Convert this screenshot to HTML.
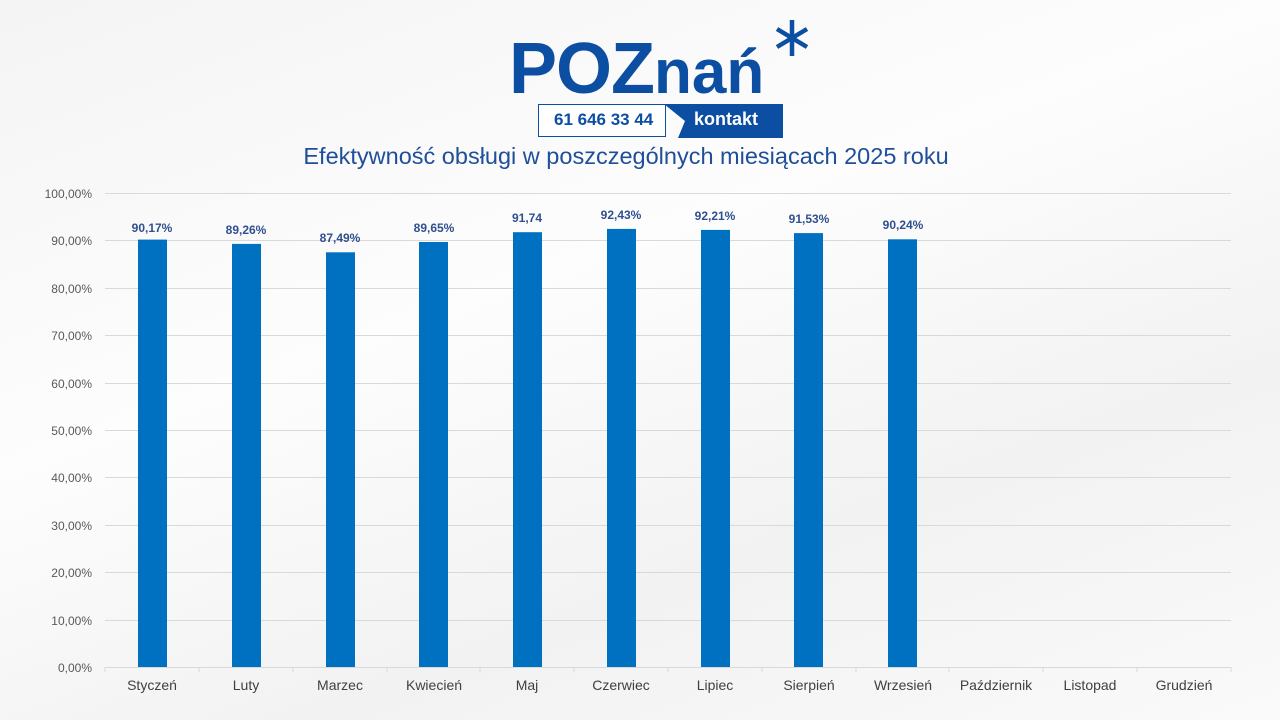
<!DOCTYPE html>
<html><head><meta charset="utf-8"><style>
body{margin:0;width:1280px;height:720px;overflow:hidden;background:linear-gradient(160deg,#f4f4f4 0%,#fdfdfd 40%,#f2f2f2 70%,#fafafa 100%);font-family:"Liberation Sans",sans-serif;position:relative}
.t{position:absolute;white-space:nowrap}
</style></head><body>
<div class="t" style="left:509px;top:24px;font-size:72px;font-weight:bold;color:#0b4ea2;letter-spacing:-1px;line-height:90px">POZ<span style="font-size:62px;letter-spacing:0">nań</span></div>
<svg class="t" style="left:776px;top:18px" width="32" height="40"><g stroke="#0b4ea2" stroke-width="4.5" stroke-linecap="butt"><line x1="16" y1="2" x2="16" y2="38"/><line x1="1" y1="11" x2="31" y2="29"/><line x1="31" y1="11" x2="1" y2="29"/></g></svg>
<div class="t" style="left:538px;top:104px;width:126px;height:31px;border:1.5px solid #0b4ea2;background:#fff"></div>
<div class="t" style="left:554px;top:110px;font-size:17px;font-weight:bold;color:#0b4ea2">61 646 33 44</div>
<svg class="t" style="left:664px;top:104px" width="120" height="34"><polygon points="0,0 119,0 119,34 14,34 21,17" fill="#0b4ea2"/></svg>
<div class="t" style="left:694px;top:109px;font-size:18px;font-weight:bold;color:#fff">kontakt</div>
<div class="t" style="left:0;width:1252px;text-align:center;top:143px;font-size:23.5px;color:#1f4e9a">Efektywność obsługi w poszczególnych miesiącach 2025 roku</div>
<svg class="t" style="left:0;top:0" width="1280" height="720" font-family="Liberation Sans, sans-serif">
<g stroke="#d9d9d9" stroke-width="1">
<line x1="105" x2="1231" y1="193.5" y2="193.5"/><line x1="105" x2="1231" y1="240.5" y2="240.5"/><line x1="105" x2="1231" y1="288.5" y2="288.5"/><line x1="105" x2="1231" y1="335.5" y2="335.5"/><line x1="105" x2="1231" y1="383.5" y2="383.5"/><line x1="105" x2="1231" y1="430.5" y2="430.5"/><line x1="105" x2="1231" y1="477.5" y2="477.5"/><line x1="105" x2="1231" y1="525.5" y2="525.5"/><line x1="105" x2="1231" y1="572.5" y2="572.5"/><line x1="105" x2="1231" y1="620.5" y2="620.5"/><line x1="105" x2="1231" y1="667.5" y2="667.5"/>
</g>
<g font-size="12" fill="#595959" text-anchor="end">
<text x="92" y="198">100,00%</text><text x="92" y="245">90,00%</text><text x="92" y="293">80,00%</text><text x="92" y="340">70,00%</text><text x="92" y="388">60,00%</text><text x="92" y="435">50,00%</text><text x="92" y="482">40,00%</text><text x="92" y="530">30,00%</text><text x="92" y="577">20,00%</text><text x="92" y="625">10,00%</text><text x="92" y="672">0,00%</text>
</g>
<g fill="#0070c0">
<rect x="138" y="239.6" width="29" height="427.4"/><rect x="232" y="243.9" width="29" height="423.1"/><rect x="326" y="252.3" width="29" height="414.7"/><rect x="419" y="242" width="29" height="425"/><rect x="513" y="232.2" width="29" height="434.8"/><rect x="607" y="228.9" width="29" height="438.1"/><rect x="701" y="229.9" width="29" height="437.1"/><rect x="794" y="233.1" width="29" height="433.9"/><rect x="888" y="239.3" width="29" height="427.7"/>
</g>
<g font-size="12" font-weight="bold" fill="#2f4f8f" text-anchor="middle">
<text x="152" y="232">90,17%</text><text x="246" y="234">89,26%</text><text x="340" y="242">87,49%</text><text x="434" y="232">89,65%</text><text x="527" y="222">91,74</text><text x="621" y="219">92,43%</text><text x="715" y="220">92,21%</text><text x="809" y="223">91,53%</text><text x="903" y="229">90,24%</text>
</g>
<g stroke="#d9d9d9"><line x1="105" x2="105" y1="667" y2="672"/><line x1="199" x2="199" y1="667" y2="672"/><line x1="293" x2="293" y1="667" y2="672"/><line x1="387" x2="387" y1="667" y2="672"/><line x1="480" x2="480" y1="667" y2="672"/><line x1="574" x2="574" y1="667" y2="672"/><line x1="668" x2="668" y1="667" y2="672"/><line x1="762" x2="762" y1="667" y2="672"/><line x1="856" x2="856" y1="667" y2="672"/><line x1="949" x2="949" y1="667" y2="672"/><line x1="1043" x2="1043" y1="667" y2="672"/><line x1="1137" x2="1137" y1="667" y2="672"/><line x1="1231" x2="1231" y1="667" y2="672"/></g>
<g font-size="14" fill="#404040" text-anchor="middle">
<text x="152" y="690">Styczeń</text><text x="246" y="690">Luty</text><text x="340" y="690">Marzec</text><text x="434" y="690">Kwiecień</text><text x="527" y="690">Maj</text><text x="621" y="690">Czerwiec</text><text x="715" y="690">Lipiec</text><text x="809" y="690">Sierpień</text><text x="903" y="690">Wrzesień</text><text x="996" y="690">Październik</text><text x="1090" y="690">Listopad</text><text x="1184" y="690">Grudzień</text>
</g>
</svg>
</body></html>
